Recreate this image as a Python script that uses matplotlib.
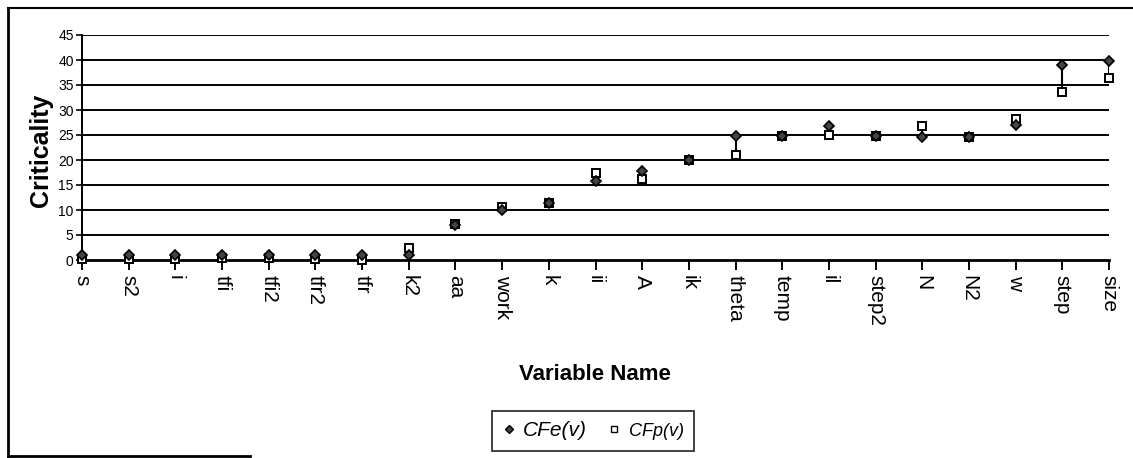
import matplotlib.pyplot as plt
from matplotlib.lines import Line2D

# variables ordered as on the x axis
names = ['s', 's2', 'i', 'tfi', 'tfi2', 'tfr2', 'tfr', 'k2', 'aa', 'work', 'k',
         'ii', 'A', 'ik', 'theta', 'temp', 'il', 'step2', 'N', 'N2', 'w', 'step', 'size']
# criticality values
cfe = [1, 1, 1, 1, 1, 1, 1, 1, 7, 10, 11.5, 15.8, 17.8, 20, 24.8, 24.8,
       26.9, 24.8, 24.6, 24.7, 27, 39, 39.8]
cfp = [0.3, 0.3, 0.3, 0.5, 0.5, 0.3, 0, 2.5, 7.2, 10.6, 11.4, 17.4, 16.3, 20,
       21, 24.8, 25, 24.8, 26.8, 24.7, 28.3, 33.7, 36.4]
y_ticks = [0, 5, 10, 15, 20, 25, 30, 35, 40, 45]

plt.rcParams['font.family'] = ['Liberation Sans', 'DejaVu Sans']

fig = plt.figure(figsize=(11.33, 4.58), dpi=100)
ax = fig.add_axes([82 / 1133, 1 - 260 / 458, (1109 - 82) / 1133, 225 / 458])

x = list(range(len(names)))

# gridlines
for t in y_ticks[1:]:
    ax.axhline(t, color='black', lw=1.4, zorder=1)

# high-low lines between the two series
ax.vlines(x, [min(a, b) for a, b in zip(cfe, cfp)],
          [max(a, b) for a, b in zip(cfe, cfp)], color='black', lw=1.5, zorder=2)

ax.plot(x, cfp, ls='none', marker='s', ms=6, mfc='white', mec='black', mew=1.4,
        zorder=3, clip_on=False)
ax.plot(x, cfe, ls='none', marker='D', ms=5, mfc='#444444', mec='black', mew=1.2,
        zorder=4, clip_on=False)

ax.set_xlim(0, len(names) - 1)
ax.set_ylim(0, 45)
ax.set_xticks(x)
ax.set_xticklabels(names, rotation=-90, fontsize=15, va='top', ha='center')
ax.set_yticks(y_ticks)
ax.tick_params(axis='y', labelsize=10, length=4, width=1.2, direction='out', pad=2)
ax.tick_params(axis='x', length=7, width=1.4, direction='out', pad=4)
for s in ['top', 'right']:
    ax.spines[s].set_visible(False)
ax.spines['left'].set_linewidth(1.4)
ax.spines['bottom'].set_linewidth(2)

fig.text(41 / 1133, 1 - 150 / 458, 'Criticality', rotation=90, fontsize=18,
         fontweight='bold', ha='center', va='center')
fig.text(595 / 1133, 1 - 374 / 458, 'Variable Name', fontsize=16,
         fontweight='bold', ha='center', va='center')

handles = [Line2D([], [], ls='none', marker='D', ms=4, mfc='#444444', mec='black'),
           Line2D([], [], ls='none', marker='s', ms=5, mfc='white', mec='black')]
leg = fig.legend(handles, ['CFe(v)', 'CFp(v)'], loc='center',
                 bbox_to_anchor=(593 / 1133, 1 - 431 / 458), ncol=2, frameon=True,
                 fancybox=False, edgecolor='black', handlelength=0.6, handletextpad=0.4,
                 columnspacing=1.0, borderpad=0.5, prop={'style': 'italic', 'size': 15})
leg.get_frame().set_linewidth(1.3)
leg.get_texts()[1].set_fontsize(13)

# outer frame of the figure
fig.add_artist(Line2D([8 / 1133, 8 / 1133], [1 - 456 / 458, 1 - 8 / 458],
                      transform=fig.transFigure, color='black', lw=2))
fig.add_artist(Line2D([8 / 1133, 1.0], [1 - 8 / 458, 1 - 8 / 458],
                      transform=fig.transFigure, color='black', lw=1.5))
fig.add_artist(Line2D([8 / 1133, 250 / 1133], [1 - 456 / 458, 1 - 456 / 458],
                      transform=fig.transFigure, color='black', lw=2))

fig.savefig('out.png', dpi=100)
